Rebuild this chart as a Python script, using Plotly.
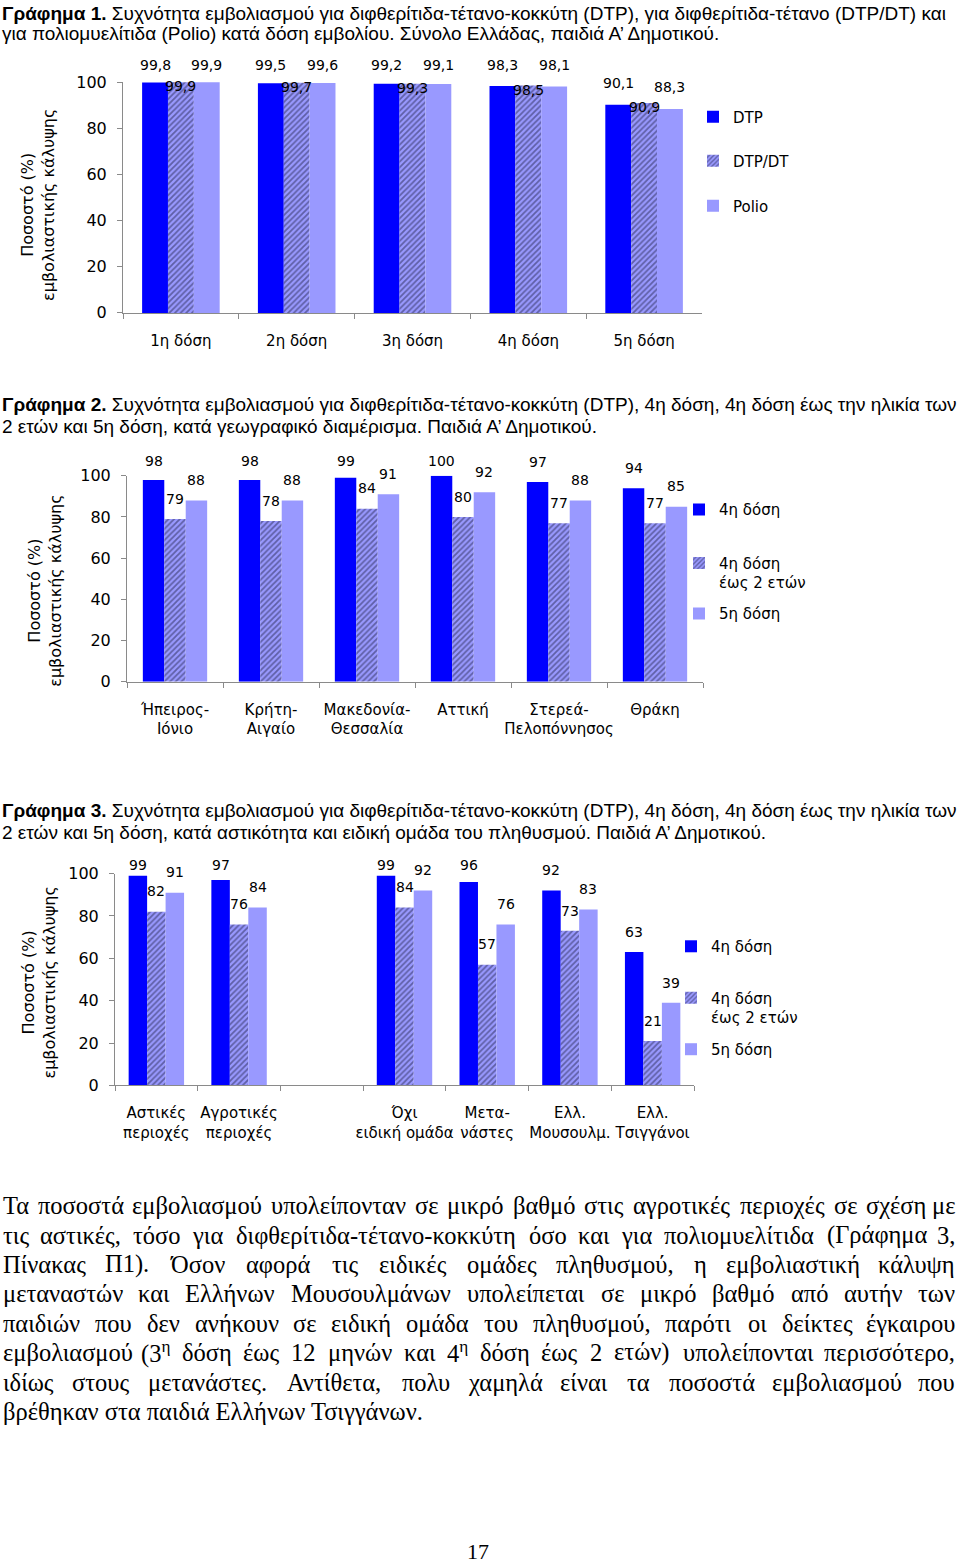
import re
import plotly.graph_objects as go

W, H = 960, 1564

# ---------------- DATA ----------------
# Chart 1
doses = ["1η δόση", "2η δόση", "3η δόση", "4η δόση", "5η δόση"]
c1_names = ["DTP", "DTP/DT", "Polio"]
c1_dtp = [99.8, 99.5, 99.2, 98.3, 90.1]
c1_dtpdt = [99.9, 99.7, 99.3, 98.5, 90.9]
c1_polio = [99.9, 99.6, 99.1, 98.1, 88.3]

# Chart 2
regions = ["Ήπειρος-<br>Ιόνιο", "Κρήτη-<br>Αιγαίο", "Μακεδονία-<br>Θεσσαλία",
           "Αττική", "Στερεά-<br>Πελοπόννησος", "Θράκη"]
c2_names = ["4η δόση", "4η δόση<br>έως 2 ετών", "5η δόση"]
c2_dose4 = [98, 98, 99, 100, 97, 94]
c2_dose4_2y = [79, 78, 84, 80, 77, 77]
c2_dose5 = [88, 88, 91, 92, 88, 85]

# Chart 3
groups = ["Αστικές<br>περιοχές", "Αγροτικές<br>περιοχές", " ", "Όχι<br>ειδική ομάδα",
          "Μετα-<br>νάστες", "Ελλ.<br>Μουσουλμ.", "Ελλ.<br>Τσιγγάνοι"]
c3_names = ["4η δόση", "4η δόση<br>έως 2 ετών", "5η δόση"]
c3_dose4 = [99, 97, None, 99, 96, 92, 63]
c3_dose4_2y = [82, 76, None, 84, 57, 73, 21]
c3_dose5 = [91, 84, None, 92, 76, 83, 39]

y_ticks = [0, 20, 40, 60, 80, 100]

title_lines = [
    ["<b>Γράφημα 1.</b> Συχνότητα εμβολιασμού για διφθερίτιδα-τέτανο-κοκκύτη (DTP), για διφθερίτιδα-τέτανο (DTP/DT) και",
     "για πολιομυελίτιδα (Polio) κατά δόση εμβολίου. Σύνολο Ελλάδας, παιδιά Α’ Δημοτικού."],
    ["<b>Γράφημα 2.</b> Συχνότητα εμβολιασμού για διφθερίτιδα-τέτανο-κοκκύτη (DTP), 4η δόση, 4η δόση έως την ηλικία των",
     "2 ετών και 5η δόση, κατά γεωγραφικό διαμέρισμα. Παιδιά Α’ Δημοτικού."],
    ["<b>Γράφημα 3.</b> Συχνότητα εμβολιασμού για διφθερίτιδα-τέτανο-κοκκύτη (DTP), 4η δόση, 4η δόση έως την ηλικία των",
     "2 ετών και 5η δόση, κατά αστικότητα και ειδική ομάδα του πληθυσμού. Παιδιά Α’ Δημοτικού."],
]
y_title = "Ποσοστό (%)<br>εμβολιαστικής κάλυψης"

paragraph_lines = [
    "Τα ποσοστά εμβολιασμού υπολείπονταν σε μικρό βαθμό στις αγροτικές περιοχές σε σχέση με",
    "τις αστικές, τόσο για διφθερίτιδα-τέτανο-κοκκύτη όσο και για πολιομυελίτιδα (Γράφημα 3,",
    "Πίνακας Π1). Όσον αφορά τις ειδικές ομάδες πληθυσμού, η εμβολιαστική κάλυψη",
    "μεταναστών και Ελλήνων Μουσουλμάνων υπολείπεται σε μικρό βαθμό από αυτήν των",
    "παιδιών που δεν ανήκουν σε ειδική ομάδα του πληθυσμού, παρότι οι δείκτες έγκαιρου",
    "εμβολιασμού (3<sup>η</sup> δόση έως 12 μηνών και 4<sup>η</sup> δόση έως 2 ετών) υπολείπονται περισσότερο,",
    "ιδίως στους μετανάστες. Αντίθετα, πολυ χαμηλά είναι τα ποσοστά εμβολιασμού που",
    "βρέθηκαν στα παιδιά Ελλήνων Τσιγγάνων.",
]
page_number = "17"

# ---------------- STYLE ----------------
BLUE = "#0000FF"
LILAC = "#9999FF"
HATCH_FG = "#26264D"
AXIS_COL = "#8A8A8A"
SANS = "DejaVu Sans"
TITLE_FONT = "Liberation Sans"
SERIF = "Liberation Serif"
BARGAP = 0.33
PARA_SIZE = 24.5
PARA_LEFT, PARA_RIGHT = 1, 957
PARA_Y = [1206, 1236, 1265, 1294, 1324, 1353, 1383, 1412]

# vertical calibration of the photographed page (observed: shown = 0.9884 * y + 8.95)
V_SCALE, V_OFF = 0.9884, 8.95

# approximate advance widths (em) of a Times-like serif, used only for justification spacing
SERIF_W = {}
for ch_, w_ in {
    "αά": .52, "β": .50, "γ": .45, "δ": .48, "εέ": .41, "ζ": .42, "ηή": .50, "θ": .48,
    "ιίϊ": .28, "κ": .49, "λ": .48, "μ": .52, "ν": .45, "ξ": .43, "οό": .50, "π": .53,
    "ρ": .49, "σ": .52, "ς": .41, "τ": .43, "υύϋ": .48, "φ": .63, "χ": .46, "ψ": .66,
    "ωώ": .68, "ΑΔΗΘΚΟΥΧ": .72, "Λ": .70, "Μ": .89, "Ν": .72, "Π": .72, "Β": .67,
    "Γ": .59, "ΕΖΣΤ": .61, "Ι": .33, "Ρ": .56, "Φ": .76, "Ψ": .80, "Ω": .75, "Ό": .80,
    "0123456789": .50, ",.": .25, "()-": .333,
}.items():
    for c in ch_:
        SERIF_W[c] = w_


def est_width(word, size):
    total = 0.0
    for i, part in enumerate(re.split(r"</?sup>", word)):
        for c in part:
            total += SERIF_W.get(c, .5) * (0.7 if i % 2 == 1 else 1.0)
    return total * size


def px_x(p):
    return p / W


def dy(p):
    """target page row -> figure row"""
    return (p - V_OFF) / V_SCALE


def px_y(p):
    return 1 - dy(p) / H


def fmt1(v):
    return f"{v:.1f}".replace(".", ",")


def fmt0(v):
    return f"{v:.0f}"


charts = [
    dict(cats=doses, names=c1_names, vals=[c1_dtp, c1_dtpdt, c1_polio],
         left=123, right=702, top=82, bottom=313, fmt=fmt1,
         shifts=[22, -4, 22], cap=248,
         leg_x=693, leg_y=[117, 161, 206],
         ytitle=(38, 205), title_y=(13, 33)),
    dict(cats=regions, names=c2_names, vals=[c2_dose4, c2_dose4_2y, c2_dose5],
         left=127, right=703, top=476, bottom=682, fmt=fmt0,
         shifts=[20, 20, 20], cap=221,
         leg_x=679, leg_y=[510, 573, 614],
         ytitle=(45, 591), title_y=(405, 427)),
    dict(cats=groups, names=c3_names, vals=[c3_dose4, c3_dose4_2y, c3_dose5],
         left=115, right=694, top=874, bottom=1086, fmt=fmt0,
         shifts=[20, 20, 20], cap=220,
         leg_x=671, leg_y=[947, 1008, 1050],
         ytitle=(39, 983), title_y=(811, 833)),
]

fig = go.Figure()
annotations = []
layout = {}
legend_no = 0

for ci, ch in enumerate(charts):
    sfx = "" if ci == 0 else str(ci + 1)
    xa, ya = "x" + sfx, "y" + sfx
    n = len(ch["cats"])
    slot = (ch["right"] - ch["left"]) / n
    bar_px = slot * (1 - BARGAP) / 3
    ppu = (ch["bottom"] - ch["top"]) / 100.0

    for si, (name, vals) in enumerate(zip(ch["names"], ch["vals"])):
        legend_no += 1
        lkey = "legend" if legend_no == 1 else f"legend{legend_no}"
        if si == 0:
            marker = dict(color=BLUE, line=dict(width=0))
        elif si == 1:
            marker = dict(color=LILAC, line=dict(width=0),
                          pattern=dict(shape="/", fgcolor=HATCH_FG, bgcolor=LILAC,
                                       size=4, solidity=0.45, fillmode="overlay"))
        else:
            marker = dict(color=LILAC, line=dict(width=0))
        fig.add_trace(go.Bar(x=ch["cats"], y=vals, name=name, marker=marker,
                             xaxis=xa, yaxis=ya, legend=lkey, showlegend=True,
                             hoverinfo="x+y+name"))
        layout[lkey] = dict(x=px_x(ch["leg_x"]), y=px_y(ch["leg_y"][si]),
                            xanchor="left", yanchor="middle",
                            bgcolor="rgba(0,0,0,0)", valign="top", itemwidth=30,
                            font=dict(family=SANS, size=15, color="black"))
        # data labels
        for cat, v in zip(ch["cats"], vals):
            if v is None:
                continue
            shift = min(ch["shifts"][si], ch["cap"] - v * ppu) / V_SCALE
            annotations.append(dict(x=cat, y=v, xref=xa, yref=ya, text=ch["fmt"](v),
                                    showarrow=False, xanchor="center", yanchor="middle",
                                    xshift=(si - 1) * bar_px, yshift=shift,
                                    font=dict(family=SANS, size=14, color="black")))

    layout["xaxis" + sfx] = dict(domain=[px_x(ch["left"]), px_x(ch["right"])], anchor=ya,
                                 type="category", categoryorder="array", categoryarray=ch["cats"],
                                 tickson="boundaries", ticks="outside", ticklen=5,
                                 tickcolor=AXIS_COL, showline=True, linecolor=AXIS_COL,
                                 linewidth=1, showgrid=False, zeroline=False,
                                 tickangle=0, ticklabelstandoff=14,
                                 tickfont=dict(family=SANS, size=15, color="black"))
    layout["yaxis" + sfx] = dict(domain=[px_y(ch["bottom"]), px_y(ch["top"])], anchor=xa,
                                 range=[0, 100], tickvals=y_ticks, ticks="outside", ticklen=5,
                                 tickcolor=AXIS_COL, showline=True, linecolor=AXIS_COL,
                                 linewidth=1, showgrid=False, zeroline=False,
                                 ticklabelstandoff=7,
                                 tickfont=dict(family=SANS, size=16, color="black"))
    tx, ty = ch["ytitle"]
    annotations.append(dict(x=px_x(tx), y=px_y(ty), xref="paper", yref="paper",
                            text=y_title, textangle=-90, showarrow=False,
                            xanchor="center", yanchor="middle",
                            font=dict(family=SANS, size=16, color="black")))
    for line, ly in zip(title_lines[ci], ch["title_y"]):
        annotations.append(dict(x=0, y=px_y(ly), xref="paper", yref="paper",
                                text=line, showarrow=False, xanchor="left",
                                yanchor="middle", align="left",
                                font=dict(family=TITLE_FONT, size=19, color="black")))

# justified paragraph: words spread between left and right text edges
for li, (line, ly) in enumerate(zip(paragraph_lines, PARA_Y)):
    font = dict(family=SERIF, size=PARA_SIZE, color="black")
    if li == len(paragraph_lines) - 1:
        annotations.append(dict(x=px_x(PARA_LEFT), y=px_y(ly), xref="paper", yref="paper",
                                text=line, showarrow=False, xanchor="left",
                                yanchor="middle", font=font))
        continue
    words = line.split(" ")
    widths = [est_width(w, PARA_SIZE) for w in words]
    gap = (PARA_RIGHT - PARA_LEFT - sum(widths)) / (len(words) - 1)
    pos = PARA_LEFT
    for wi, (w, ww) in enumerate(zip(words, widths)):
        if wi == 0:
            a = dict(x=px_x(PARA_LEFT), xanchor="left")
        elif wi == len(words) - 1:
            a = dict(x=px_x(PARA_RIGHT), xanchor="right")
        else:
            a = dict(x=px_x(pos + ww / 2), xanchor="center")
        annotations.append(dict(y=px_y(ly), xref="paper", yref="paper", text=w,
                                showarrow=False, yanchor="middle", font=font, **a))
        pos += ww + gap

annotations.append(dict(x=px_x(478), y=px_y(1552), xref="paper", yref="paper",
                        text=page_number, showarrow=False, xanchor="center", yanchor="middle",
                        font=dict(family=SERIF, size=22, color="black")))

fig.update_layout(width=W, height=H, margin=dict(l=0, r=0, t=0, b=0, pad=0),
                  paper_bgcolor="white", plot_bgcolor="white",
                  barmode="group", bargap=BARGAP, bargroupgap=0,
                  annotations=annotations, **layout)

PAGE_RESET = (
    "document.documentElement.style.margin='0';"
    "document.documentElement.style.padding='0';"
    "document.documentElement.style.overflow='hidden';"
    "document.body.style.margin='0';"
    "document.body.style.padding='0';"
    "document.body.style.overflow='hidden';"
    "var gd=document.getElementsByClassName('plotly-graph-div')[0];"
    "gd.style.position='absolute';gd.style.left='0px';gd.style.top='0px';"
)
fig.write_html("out.html", post_script=PAGE_RESET)
